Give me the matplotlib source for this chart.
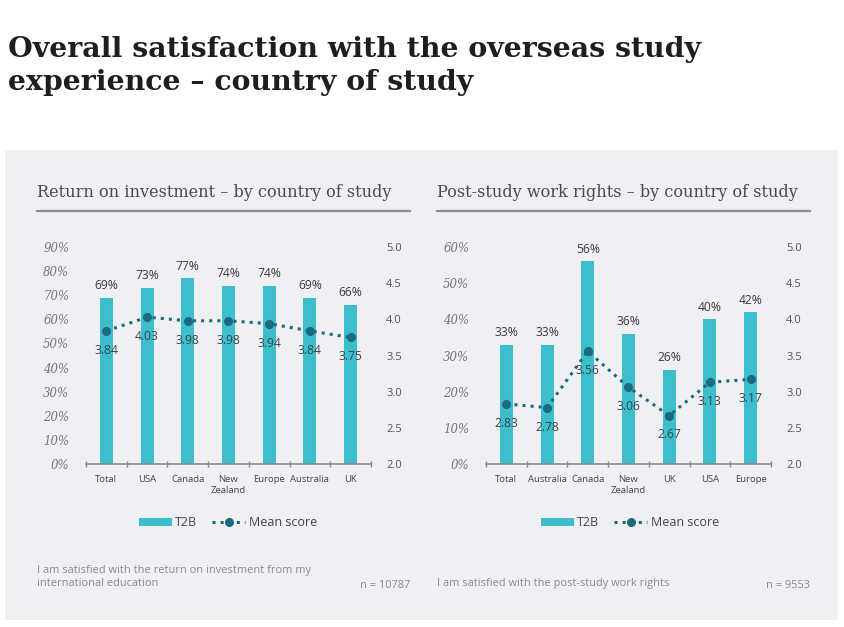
import matplotlib
matplotlib.use("Agg")
import matplotlib.pyplot as plt
import numpy as np
from matplotlib.lines import Line2D
from matplotlib.patches import Patch, Rectangle

W, H = 845, 627

roi_countries = ["Total", "USA", "Canada", "New\nZealand", "Europe", "Australia", "UK"]
roi_t2b = [69, 73, 77, 74, 74, 69, 66]
roi_mean = [3.84, 4.03, 3.98, 3.98, 3.94, 3.84, 3.75]

work_countries = ["Total", "Australia", "Canada", "New\nZealand", "UK", "USA", "Europe"]
work_t2b = [33, 33, 56, 36, 26, 40, 42]
work_mean = [2.83, 2.78, 3.56, 3.06, 2.67, 3.13, 3.17]

BAR = "#3dbecd"
LINE = "#1d6a7e"
SANS = ["Open Sans", "DejaVu Sans"]
SERIF = ["DejaVu Serif"]


def px(x, y, w, h):
    """pixel box (top-left origin) -> figure fraction rect"""
    return [x / W, 1 - (y + h) / H, w / W, h / H]


def fx(x):
    return x / W


def fy(y):
    return 1 - y / H


fig = plt.figure(figsize=(W / 100, H / 100), dpi=100)
fig.patch.set_facecolor("white")

# grey panel behind both charts
fig.add_artist(Rectangle((fx(5), fy(620)), fx(838) - fx(5), fy(150) - fy(620),
                         transform=fig.transFigure, facecolor="#eef0f3",
                         edgecolor="none", zorder=0))

# main title, one text per line so baselines sit where the reference has them
fig.text(fx(8), fy(57), "Overall satisfaction with the overseas study",
         family=SERIF, weight="bold", fontsize=20.4, color="#1e1e1e",
         va="baseline", ha="left")
fig.text(fx(8), fy(90), "experience \u2013 country of study",
         family=SERIF, weight="bold", fontsize=20.4, color="#1e1e1e",
         va="baseline", ha="left")


def draw_chart(left, countries, t2b, mean, ymax, title, note, n_text, leg_x):
    n = len(countries)
    x = np.arange(n)
    ax = fig.add_axes(px(left, 247, 285, 217))
    ax.set_facecolor("none")
    ax.bar(x, t2b, width=0.32, color=BAR, zorder=2)
    ax.set_xlim(-0.5, n - 0.5)
    ax.set_ylim(0, ymax)
    ax.set_yticks(range(0, ymax + 1, 10))
    ax.set_yticklabels([f"{v}%" for v in range(0, ymax + 1, 10)],
                       family=SERIF, style="italic", fontsize=8.5, color="#777777")
    ax.set_xticks(x)
    ax.set_xticklabels(countries, family=SANS, fontsize=6.8, color="#444444",
                       linespacing=1.25)
    ax.set_xticks(np.arange(-0.5, n, 1), minor=True)
    ax.tick_params(axis="x", which="major", length=0, pad=8)
    ax.tick_params(axis="x", which="minor", length=5, direction="inout",
                   color="#8a8a8a", width=1)
    ax.tick_params(axis="y", length=0, pad=12)
    for s in ("top", "left", "right"):
        ax.spines[s].set_visible(False)
    ax.spines["bottom"].set_color("#8a8a8a")
    ax.spines["bottom"].set_linewidth(1.2)
    for i, v in enumerate(t2b):
        ax.annotate(f"{v}%", (i, v), xytext=(0, 4), textcoords="offset points",
                    ha="center", va="bottom", family=SANS, fontsize=8.7,
                    color="#3a3a3a")

    ax2 = ax.twinx()
    ax2.set_facecolor("none")
    ax2.plot(x, mean, linestyle=":", color=LINE, linewidth=2.2, marker="o",
             markersize=5.5, zorder=3)
    ax2.set_ylim(2.0, 5.0)
    ax2.set_yticks(np.arange(2.0, 5.01, 0.5))
    ax2.set_yticklabels([f"{v:.1f}" for v in np.arange(2.0, 5.01, 0.5)],
                        family=SANS, fontsize=8, color="#555555")
    ax2.tick_params(axis="y", length=0, pad=11)
    for s in ax2.spines.values():
        s.set_visible(False)
    for i, m in enumerate(mean):
        ax2.annotate(f"{m:.2f}", (i, m), xytext=(0, -14), textcoords="offset points",
                     ha="center", va="center", family=SANS, fontsize=8.7,
                     color="#3a4448")

    # subtitle + rule
    tx = left - 49
    fig.text(fx(tx), fy(197), title, family=SERIF, fontsize=11.6, color="#4a4a4a",
             ha="left", va="baseline")
    fig.add_artist(Line2D([fx(tx), fx(tx + 373)], [fy(211), fy(211)],
                          transform=fig.transFigure, color="#8c8c8c", linewidth=1.6))

    # legend
    handles = [Patch(facecolor=BAR, edgecolor="none"),
               Line2D([], [], linestyle=":", color=LINE, linewidth=2.2, marker="o",
                      markersize=5.5)]
    fig.legend(handles, ["T2B", "Mean score"], loc="center",
               bbox_to_anchor=(fx(leg_x), fy(523)), ncol=2, frameon=False,
               prop={"family": SANS, "size": 9}, labelcolor="#444444",
               handlelength=2.6, handleheight=0.6, handletextpad=0.3,
               columnspacing=1.2)

    # footnotes
    fig.text(fx(tx), fy(577), note, family=SANS, fontsize=7.9, color="#8a8a8a",
             ha="left", va="center", linespacing=1.3)
    fig.text(fx(tx + 373), fy(585), n_text, family=SANS, fontsize=7.9,
             color="#8a8a8a", ha="right", va="center")


draw_chart(86, roi_countries, roi_t2b, roi_mean, 90,
           "Return on investment \u2013 by country of study",
           "I am satisfied with the return on investment from my\ninternational education",
           "n = 10787", 228)
draw_chart(486, work_countries, work_t2b, work_mean, 60,
           "Post-study work rights \u2013 by country of study",
           "\nI am satisfied with the post-study work rights",
           "n = 9553", 630)

fig.savefig("out.png", dpi=100, facecolor="white")
